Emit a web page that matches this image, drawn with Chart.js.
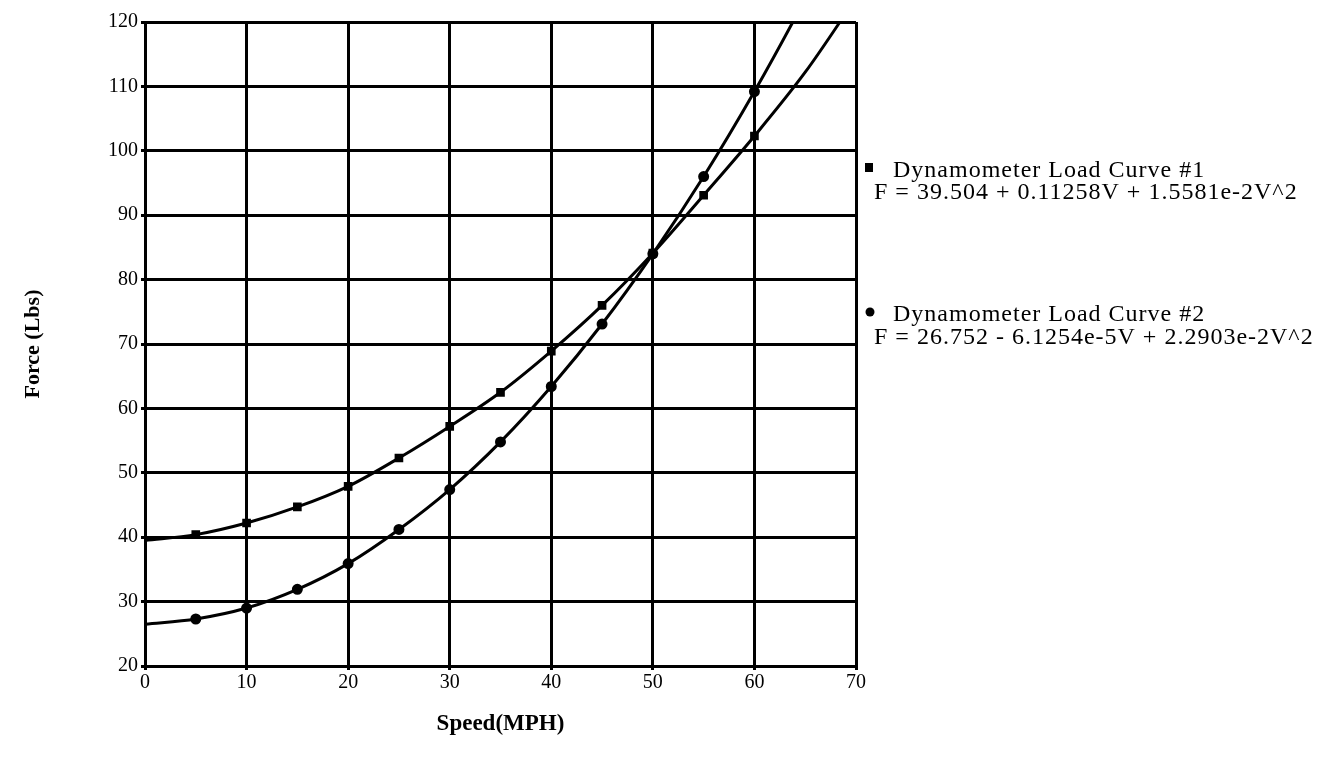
<!DOCTYPE html>
<html>
<head>
<meta charset="utf-8">
<script src="https://cdn.jsdelivr.net/npm/chart.js@4"></script>
<style>
  html, body { margin: 0; padding: 0; background: #fff; }
  #wrap { width: 1336px; height: 762px; }
</style>
</head>
<body>
<div id="wrap"><canvas id="loadchart" width="1336" height="762"></canvas></div>
<script>
// speeds (MPH) and measured force (Lbs) for both dynamometer load curves
var speeds = [0, 5, 10, 15, 20, 25, 30, 35, 40, 45, 50, 55, 60, 65, 70];
var curve1 = [39.5, 40.4, 42.2, 44.7, 47.9, 52.3, 57.2, 62.5, 68.9, 76.0, 84.1, 93.1, 102.3, 112.2, 123.7];
var curve2 = [26.5, 27.3, 29.0, 31.9, 35.9, 41.2, 47.4, 54.8, 63.4, 73.1, 84.0, 96.0, 109.2, 123.6, 139.0];

var legendLabels = ['Dynamometer Load Curve #1', 'Dynamometer Load Curve #2'];
var legendFormulas = [
  'F = 39.504 + 0.11258V + 1.5581e-2V^2',
  'F = 26.752 - 6.1254e-5V + 2.2903e-2V^2'
];

var serif = '"Liberation Serif", "Times New Roman", serif';

function toPoints(ys) {
  var pts = [];
  for (var i = 0; i < speeds.length; i++) {
    pts.push({ x: speeds[i], y: ys[i] });
  }
  return pts;
}

// only the 5..60 MPH readings get a marker
function markerSize(ctx) {
  var v = speeds[ctx.dataIndex];
  return (v >= 5 && v <= 60) ? 4 : 0;
}

// legend block to the right of the plot
var sideLegend = {
  id: 'sideLegend',
  afterDraw: function (chart) {
    var c = chart.ctx;
    c.save();
    c.fillStyle = '#000';
    c.font = '24px ' + serif;
    c.letterSpacing = '1px';
    c.textBaseline = 'alphabetic';

    c.fillRect(865, 163, 8, 9);
    c.fillText(legendLabels[0], 893, 177);
    c.fillText(legendFormulas[0], 874, 199);

    c.beginPath();
    c.arc(870, 312, 4.5, 0, Math.PI * 2);
    c.fill();
    c.fillText(legendLabels[1], 893, 321);
    c.fillText(legendFormulas[1], 874, 344);
    c.restore();
  }
};

var myChart = new Chart(document.getElementById('loadchart'), {
  type: 'line',
  data: {
    datasets: [{
      label: legendLabels[0],
      data: toPoints(curve1),
      borderColor: '#000',
      backgroundColor: '#000',
      borderWidth: 3,
      pointStyle: 'rect',
      pointRadius: markerSize,
      cubicInterpolationMode: 'monotone'
    }, {
      label: legendLabels[1],
      data: toPoints(curve2),
      borderColor: '#000',
      backgroundColor: '#000',
      borderWidth: 3,
      pointStyle: 'circle',
      pointRadius: markerSize,
      cubicInterpolationMode: 'monotone'
    }]
  },
  options: {
    responsive: false,
    animation: false,
    layout: { padding: { left: 20, right: 480, top: 22, bottom: 20 } },
    plugins: {
      legend: { display: false },
      tooltip: { enabled: false }
    },
    scales: {
      x: {
        type: 'linear',
        min: 0,
        max: 70,
        ticks: { stepSize: 10, color: '#000', padding: 1, font: { family: serif, size: 20 } },
        grid: { color: '#000', lineWidth: 3, tickLength: 4 },
        border: { color: '#000', width: 3 },
        title: {
          display: true,
          text: 'Speed(MPH)',
          color: '#000',
          padding: { top: 10 },
          font: { family: serif, size: 23, weight: 'bold' }
        },
        afterFit: function (scale) { scale.height = 76; }
      },
      y: {
        min: 20,
        max: 120,
        ticks: { stepSize: 10, color: '#000', padding: 3, font: { family: serif, size: 20 } },
        grid: { color: '#000', lineWidth: 3, tickLength: 4 },
        border: { color: '#000', width: 3 },
        title: {
          display: true,
          text: 'Force (Lbs)',
          color: '#000',
          padding: { top: 0, bottom: 0 },
          font: { family: serif, size: 22, weight: 'bold' }
        },
        afterFit: function (scale) { scale.width = 125; }
      }
    }
  },
  plugins: [sideLegend]
});
</script>
</body>
</html>
